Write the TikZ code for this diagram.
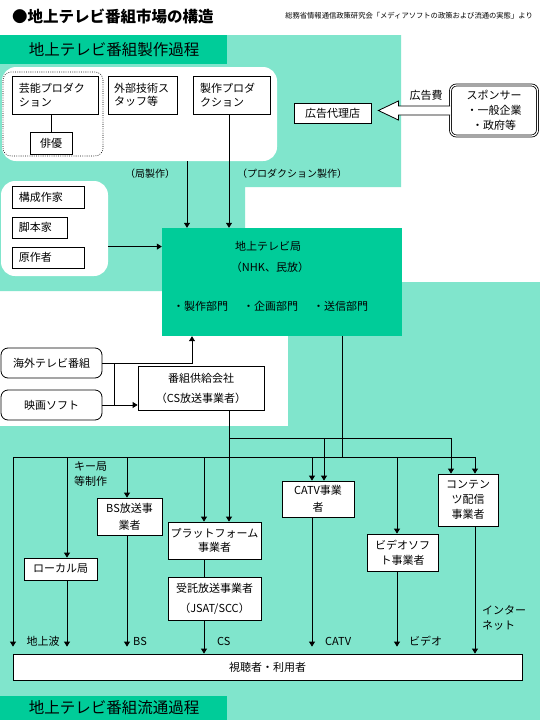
\documentclass[tikz,border=0pt]{standalone}
\usepackage{fontspec}
\newfontfamily\cjk{Noto Sans CJK JP}
\usetikzlibrary{arrows.meta,calc}
\definecolor{tvgreen}{RGB}{0,204,153}
\definecolor{hatchc}{RGB}{128,229,204}
\begin{document}
\begin{tikzpicture}[x=1pt,y=-1pt,
  txt/.style={inner sep=0pt,font=\cjk\fontsize{11}{15}\selectfont,align=center},
  box/.style={txt,draw,fill=white,line width=0.8pt},
  lbox/.style={box,align=left,inner xsep=7pt,font=\cjk\fontsize{11}{13.5}\selectfont},
  region/.style={fill=white,rounded corners=14pt,inner sep=0pt},
  conn/.style={line width=0.8pt},
  arr/.style={line width=0.8pt,-{Triangle[length=5pt,width=6pt]}},
  short/.style={shorten >=7pt},
  small/.style={txt,font=\cjk\fontsize{10}{12}\selectfont},
  bartext/.style={txt,font=\cjk\fontsize{15.5}{18}\selectfont},
]
\useasboundingbox (0,0) rectangle (540,720);
\fill[white] (0,0) rectangle (540,720);
% hatched areas
\fill[hatchc] (0,35) -- (401,35) -- (401,187) -- (245,187) -- (245,291) -- (0,291) -- cycle;
\fill[hatchc] (288,282) -- (540,282) -- (540,720) -- (0,720) -- (0,426) -- (288,426) -- cycle;
\fill[tvgreen] (0,35) rectangle (227,64);
\fill[tvgreen] (0,696) rectangle (227,720);
% white rounded regions
\node[region,minimum width=275pt,minimum height=94pt] (reg1) at (139.5,114) {};
\node[region,minimum width=107pt,minimum height=95pt] (reg2) at (54.5,228.5) {};
\draw[line width=0.6pt,dash pattern=on 0.8pt off 1.4pt,rounded corners=8pt] (3,72) rectangle (103,156);

% titles
\node[txt,anchor=west,font=\cjk\bfseries\fontsize{15.5}{18}\selectfont] (title) at (12,17) {●地上テレビ番組市場の構造};
\node[txt,anchor=east,font=\cjk\fontsize{7.3}{9}\selectfont] (src) at (533,16) {総務省情報通信政策研究会「メディアソフトの政策および流通の実態」より};
\node[bartext] (bar1) at (114,50) {地上テレビ番組製作過程};
\node[bartext] (bar2) at (114,708) {地上テレビ番組流通過程};

% production boxes
\node[lbox,text width=72pt,minimum height=38pt] (geino) at (55,95) {芸能プロダク\\ション};
\node[box,minimum width=42pt,minimum height=22pt] (haiyu) at (51,143) {俳優};
\node[lbox,text width=57pt,inner xsep=6pt,minimum height=38pt] (gaibu) at (142.5,95) {外部技術ス\\タッフ等};
\node[lbox,text width=63pt,minimum height=38pt] (seisaku) at (231.5,95) {製作プロダ\\クション};
\node[box,minimum width=77pt,minimum height=20pt] (dairiten) at (332.5,113) {広告代理店};
\node[box,double,double distance=1.2pt,rounded corners=6pt,minimum width=87pt,minimum height=51pt] (sponsor) at (494,110.5) {スポンサー\\・一般企業\\・政府等};

\node[lbox,text width=58pt,minimum height=22pt] (kosei) at (48,197) {構成作家};
\node[lbox,text width=41pt,minimum height=21pt] (kyaku) at (39.5,227.5) {脚本家};
\node[lbox,text width=58pt,minimum height=21pt] (gensaku) at (48,257.5) {原作者};

% TV station
\node[fill=tvgreen,minimum width=240pt,minimum height=108pt,inner sep=0pt] (tv) at (282,282) {};
\node[txt] (tvname) at (268,246) {地上テレビ局};
\node[txt] (tvsub) at (270,267) {（NHK、民放）};
\node[txt,anchor=west] (dep1) at (173,306) {・製作部門};
\node[txt,anchor=west] (dep2) at (243,306) {・企画部門};
\node[txt,anchor=west] (dep3) at (313,306) {・送信部門};

% sources
\node[box,rounded corners=7pt,minimum width=101pt,minimum height=30pt] (kaigai) at (51.5,363) {海外テレビ番組};
\node[box,rounded corners=7pt,minimum width=101pt,minimum height=30pt] (eiga) at (51.5,405) {映画ソフト};
\node[box,font=\cjk\fontsize{11}{20}\selectfont,minimum width=126pt,minimum height=44pt] (kyokyu) at (201,388) {番組供給会社\\（CS放送事業者）};

% distribution boxes
\node[box,font=\cjk\fontsize{11}{17}\selectfont,minimum width=65pt,minimum height=37pt] (bs) at (129.5,516.5) {BS放送事\\業者};
\node[box,font=\cjk\fontsize{11}{14}\selectfont,minimum width=93pt,minimum height=37pt] (pf) at (214.5,540.5) {プラットフォーム\\事業者};
\node[box,minimum width=73pt,minimum height=22pt] (local) at (60.5,569) {ローカル局};
\node[box,font=\cjk\fontsize{11}{20}\selectfont,minimum width=93pt,minimum height=43pt] (jutaku) at (214.5,598.5) {受託放送事業者\\（JSAT/SCC）};
\node[box,font=\cjk\fontsize{11}{17}\selectfont,minimum width=72pt,minimum height=36pt] (catv) at (318,499) {CATV事業\\者};
\node[box,minimum width=71pt,minimum height=37pt] (video) at (402.5,552.5) {ビデオソフ\\ト事業者};
\node[box,minimum width=60pt,minimum height=52pt] (contents) at (468,500) {コンテン\\ツ配信\\事業者};
\node[box,minimum width=509pt,minimum height=26pt] (viewer) at (267.5,667) {視聴者・利用者};

% helper coordinates for connector positions
\coordinate (xa) at (187,0);
\coordinate (xb) at (229,0);
\coordinate (xc) at (192,0);
\coordinate (xj) at (114,0);
\coordinate (xt) at (342,0);
\coordinate (b1) at (0,457);
\coordinate (b2) at (0,438);
\coordinate (d1) at (13,0);
\coordinate (d2) at (67,0);
\coordinate (d3) at (127,0);
\coordinate (d4) at (204,0);
\coordinate (d5) at (312,0);
\coordinate (d6) at (397,0);
\coordinate (d7) at (475,0);
\coordinate (e1) at (324,0);
\coordinate (e2) at (451,0);

% production connectors
\draw[conn] (haiyu.north) -- (haiyu.north |- geino.south);
\draw[arr] (xa |- reg1.south) -- (xa |- tv.north);
\draw[arr] (xb |- seisaku.south) -- (xb |- tv.north);
\draw[arr] (reg2.east |- gensaku.north) -- (tv.west |- gensaku.north);
\draw[arr] (kaigai.east) -- (xc |- kaigai.east) -- (xc |- tv.south);
\draw[conn] (xj |- kaigai.east) -- (xj |- eiga.east);
\draw[arr] (eiga.east) -- (kyokyu.west |- eiga.east);

% advertising arrow
\coordinate (tip) at ($(dairiten.east |- sponsor.west)+(7,0)$);
\draw[line width=0.8pt,fill=white] ($(sponsor.west)+(0,-4.5)$) -- ($(tip)+(20,-4.5)$) -- ($(tip)+(20,-9.5)$) -- (tip) -- ($(tip)+(20,9.5)$) -- ($(tip)+(20,4.5)$) -- ($(sponsor.west)+(0,4.5)$);

% distribution connectors
\draw[arr] (xb |- kyokyu.south) -- (xb |- pf.north);
\draw[conn] (xb |- b2) -- (e2 |- b2);
\draw[arr] (e2 |- b2) -- (e2 |- contents.north);
\draw[arr] (e1 |- b2) -- (e1 |- catv.north);
\draw[conn] (xt |- tv.south) -- (xt |- b1);
\draw[conn] (d1 |- b1) -- (d7 |- b1);
\draw[arr,short] (d1 |- b1) -- (d1 |- viewer.north);
\draw[arr] (d2 |- b1) -- (d2 |- local.north);
\draw[arr] (d3 |- b1) -- (d3 |- bs.north);
\draw[arr] (d4 |- b1) -- (d4 |- pf.north);
\draw[arr] (d5 |- b1) -- (d5 |- catv.north);
\draw[arr] (d6 |- b1) -- (d6 |- video.north);
\draw[arr] (d7 |- b1) -- (d7 |- contents.north);
\draw[arr,short] (d2 |- local.south) -- (d2 |- viewer.north);
\draw[arr,short] (d3 |- bs.south) -- (d3 |- viewer.north);
\draw[conn] (d4 |- pf.south) -- (d4 |- jutaku.north);
\draw[arr] (d4 |- jutaku.south) -- (d4 |- viewer.north);
\draw[arr,short] (d5 |- catv.south) -- (d5 |- viewer.north);
\draw[arr,short] (d6 |- video.south) -- (d6 |- viewer.north);
\draw[arr] (d7 |- contents.south) -- (d7 |- viewer.north);

% labels
\node[small] (lkyoku) at (150,174) {（局製作）};
\node[small] (lprod) at (292,174) {（プロダクション製作）};
\node[txt] (lad) at (426,95) {広告費};
\node[txt,align=left] (lkey) at (90.5,474.5) {キー局\\等制作};
\node[txt] (lgnd) at (43,641) {地上波};
\node[txt,anchor=west] (lbs) at (133,641) {BS};
\node[txt,anchor=west] (lcs) at (217,641) {CS};
\node[txt,anchor=west] (lcatv) at (325,641) {CATV};
\node[txt,anchor=west] (lvid) at (409,641) {ビデオ};
\node[txt,align=left,anchor=west] (lnet) at (482,618) {インター\\ネット};
\end{tikzpicture}
\end{document}
